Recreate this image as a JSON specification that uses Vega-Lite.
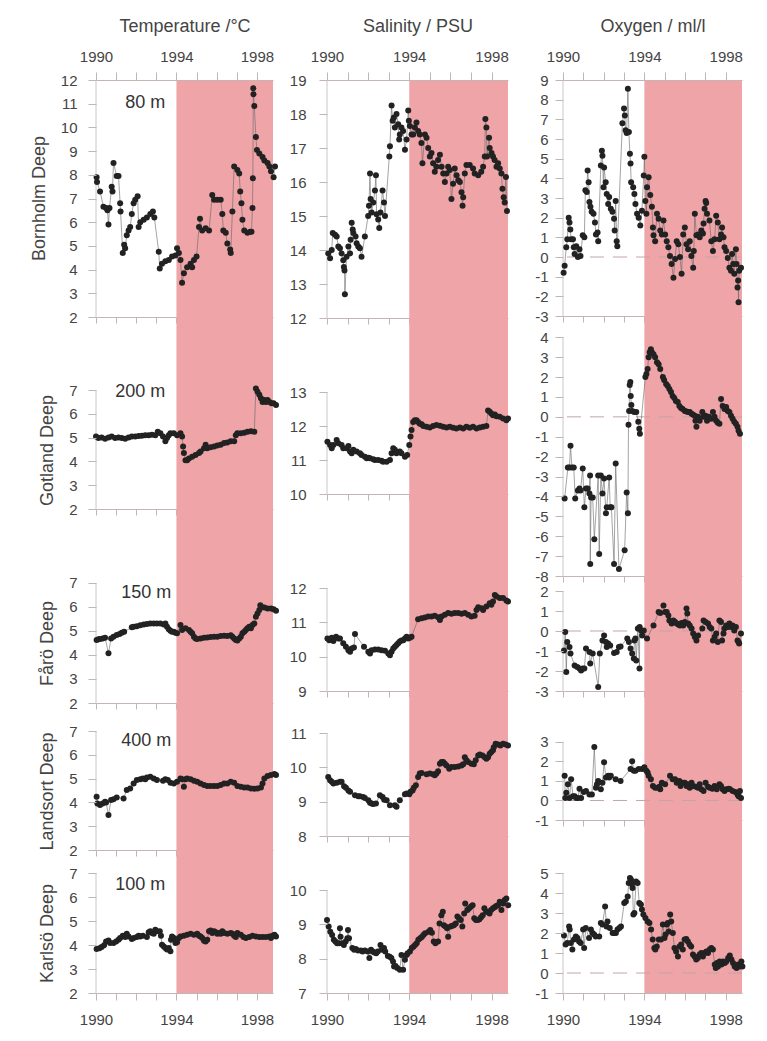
{
  "$schema": "https://vega.github.io/schema/vega-lite/v6.json",
  "background": "white",
  "padding": {"left": 30, "top": 17, "right": 10, "bottom": 10},
  "spacing": 22,
  "hconcat": [
   {
    "spacing": 9,
    "hconcat": [
    {
      "spacing": 0, "bounds": "flush",
      "vconcat": [
        {"width": 177, "height": 237, "resolve": {"axis": {"x": "independent"}},
         "layer": [
          {"data": {"values": [{}]}, "mark": {"type": "rect", "color": "#EFA4A8"}, "encoding": {"x": {"datum": 1994, "type": "quantitative", "scale": {"domain": [1990, 1998.8], "nice": false, "zero": false}, "axis": null}, "x2": {"datum": 1998.8}}},
          {"data": {"values": [{}]}, "mark": {"type": "rule", "color": "#c8c8c8"}, "encoding": {"x": {"datum": 1990, "type": "quantitative", "scale": {"domain": [1990, 1998.8], "nice": false, "zero": false}, "axis": null}, "y": {"datum": 2, "type": "quantitative", "scale": {"domain": [2, 12], "nice": false, "zero": false}}, "y2": {"datum": 12}}},
          {"data": {"name": "T1"}, "mark": {"type": "line", "color": "#666666", "strokeWidth": 0.6}, "encoding": {"x": {"field": "t", "type": "quantitative", "scale": {"domain": [1990, 1998.8], "nice": false, "zero": false}, "axis": {"orient": "top", "values": [1990,1991,1992,1993,1994,1995,1996,1997,1998], "tickCount": 30, "labelExpr": "datum.value % 4 == 2 ? '' + datum.value : ''", "labelFlush": false, "labelOverlap": false, "tickSize": 8, "labelPadding": 8, "title": "Temperature /°C", "titlePadding": 14, "zindex": 1}}, "y": {"field": "v", "type": "quantitative", "scale": {"domain": [2, 12], "nice": false, "zero": false}}}},
          {"data": {"name": "T1"}, "mark": {"type": "point", "filled": true, "color": "#222222", "size": 36, "opacity": 1}, "encoding": {"x": {"field": "t", "type": "quantitative", "scale": {"domain": [1990, 1998.8], "nice": false, "zero": false}, "axis": {"orient": "bottom", "values": [1990,1991,1992,1993,1994,1995,1996,1997,1998], "tickCount": 30, "labels": false, "tickSize": 6, "title": null, "zindex": 1}}, "y": {"field": "v", "type": "quantitative", "scale": {"domain": [2, 12], "nice": false, "zero": false}, "axis": {"values": [2,3,4,5,6,7,8,9,10,11,12], "tickCount": 30, "labelOverlap": false, "domain": false, "tickSize": 8, "labelPadding": 11, "labelExpr": "'' + datum.value", "title": "Bornholm Deep", "titleY": 118, "titlePadding": 12, "zindex": 1}}}},
          {"data": {"values": [{}]}, "mark": {"type": "text", "fontSize": 18, "color": "#333333", "baseline": "middle"}, "encoding": {"x": {"datum": 1992.45, "type": "quantitative", "scale": {"domain": [1990, 1998.8], "nice": false, "zero": false}, "axis": null}, "y": {"datum": 11.03, "type": "quantitative", "scale": {"domain": [2, 12], "nice": false, "zero": false}}, "text": {"value": "80 m"}}}
         ]},
        {"width": 177, "height": 192, "resolve": {"axis": {"x": "independent"}},
         "layer": [
          {"data": {"values": [{}]}, "mark": {"type": "rect", "color": "#EFA4A8"}, "encoding": {"x": {"datum": 1994, "type": "quantitative", "scale": {"domain": [1990, 1998.8], "nice": false, "zero": false}, "axis": null}, "x2": {"datum": 1998.8}}},
          {"data": {"values": [{}]}, "mark": {"type": "rule", "color": "#c8c8c8"}, "encoding": {"x": {"datum": 1990, "type": "quantitative", "scale": {"domain": [1990, 1998.8], "nice": false, "zero": false}, "axis": null}, "y": {"datum": 2, "type": "quantitative", "scale": {"domain": [2, 10.07], "nice": false, "zero": false}}, "y2": {"datum": 7}}},
          {"data": {"name": "T2"}, "mark": {"type": "line", "color": "#666666", "strokeWidth": 0.6}, "encoding": {"x": {"field": "t", "type": "quantitative", "scale": {"domain": [1990, 1998.8], "nice": false, "zero": false}, "axis": null}, "y": {"field": "v", "type": "quantitative", "scale": {"domain": [2, 10.07], "nice": false, "zero": false}}}},
          {"data": {"name": "T2"}, "mark": {"type": "point", "filled": true, "color": "#222222", "size": 36, "opacity": 1}, "encoding": {"x": {"field": "t", "type": "quantitative", "scale": {"domain": [1990, 1998.8], "nice": false, "zero": false}, "axis": {"orient": "bottom", "values": [1990,1991,1992,1993,1994,1995,1996,1997,1998], "tickCount": 30, "labels": false, "tickSize": 6, "title": null, "zindex": 1}}, "y": {"field": "v", "type": "quantitative", "scale": {"domain": [2, 10.07], "nice": false, "zero": false}, "axis": {"values": [2,3,4,5,6,7], "tickCount": 30, "labelOverlap": false, "domain": false, "tickSize": 8, "labelPadding": 11, "labelExpr": "'' + datum.value", "title": "Gotland Deep", "titleY": 133, "titlePadding": 12, "zindex": 1}}}},
          {"data": {"values": [{}]}, "mark": {"type": "text", "fontSize": 18, "color": "#333333", "baseline": "middle"}, "encoding": {"x": {"datum": 1992.2, "type": "quantitative", "scale": {"domain": [1990, 1998.8], "nice": false, "zero": false}, "axis": null}, "y": {"datum": 6.93, "type": "quantitative", "scale": {"domain": [2, 10.07], "nice": false, "zero": false}}, "text": {"value": "200 m"}}}
         ]},
        {"width": 177, "height": 194, "resolve": {"axis": {"x": "independent"}},
         "layer": [
          {"data": {"values": [{}]}, "mark": {"type": "rect", "color": "#EFA4A8"}, "encoding": {"x": {"datum": 1994, "type": "quantitative", "scale": {"domain": [1990, 1998.8], "nice": false, "zero": false}, "axis": null}, "x2": {"datum": 1998.8}}},
          {"data": {"values": [{}]}, "mark": {"type": "rule", "color": "#c8c8c8"}, "encoding": {"x": {"datum": 1990, "type": "quantitative", "scale": {"domain": [1990, 1998.8], "nice": false, "zero": false}, "axis": null}, "y": {"datum": 2, "type": "quantitative", "scale": {"domain": [2, 10.08], "nice": false, "zero": false}}, "y2": {"datum": 7}}},
          {"data": {"name": "T3"}, "mark": {"type": "line", "color": "#666666", "strokeWidth": 0.6}, "encoding": {"x": {"field": "t", "type": "quantitative", "scale": {"domain": [1990, 1998.8], "nice": false, "zero": false}, "axis": null}, "y": {"field": "v", "type": "quantitative", "scale": {"domain": [2, 10.08], "nice": false, "zero": false}}}},
          {"data": {"name": "T3"}, "mark": {"type": "point", "filled": true, "color": "#222222", "size": 36, "opacity": 1}, "encoding": {"x": {"field": "t", "type": "quantitative", "scale": {"domain": [1990, 1998.8], "nice": false, "zero": false}, "axis": {"orient": "bottom", "values": [1990,1991,1992,1993,1994,1995,1996,1997,1998], "tickCount": 30, "labels": false, "tickSize": 6, "title": null, "zindex": 1}}, "y": {"field": "v", "type": "quantitative", "scale": {"domain": [2, 10.08], "nice": false, "zero": false}, "axis": {"values": [2,3,4,5,6,7], "tickCount": 30, "labelOverlap": false, "domain": false, "tickSize": 8, "labelPadding": 11, "labelExpr": "'' + datum.value", "title": "Fårö Deep", "titleY": 134, "titlePadding": 12, "zindex": 1}}}},
          {"data": {"values": [{}]}, "mark": {"type": "text", "fontSize": 18, "color": "#333333", "baseline": "middle"}, "encoding": {"x": {"datum": 1992.5, "type": "quantitative", "scale": {"domain": [1990, 1998.8], "nice": false, "zero": false}, "axis": null}, "y": {"datum": 6.6, "type": "quantitative", "scale": {"domain": [2, 10.08], "nice": false, "zero": false}}, "text": {"value": "150 m"}}}
         ]},
        {"width": 177, "height": 147, "resolve": {"axis": {"x": "independent"}},
         "layer": [
          {"data": {"values": [{}]}, "mark": {"type": "rect", "color": "#EFA4A8"}, "encoding": {"x": {"datum": 1994, "type": "quantitative", "scale": {"domain": [1990, 1998.8], "nice": false, "zero": false}, "axis": null}, "x2": {"datum": 1998.8}}},
          {"data": {"values": [{}]}, "mark": {"type": "rule", "color": "#c8c8c8"}, "encoding": {"x": {"datum": 1990, "type": "quantitative", "scale": {"domain": [1990, 1998.8], "nice": false, "zero": false}, "axis": null}, "y": {"datum": 2, "type": "quantitative", "scale": {"domain": [2, 8.18], "nice": false, "zero": false}}, "y2": {"datum": 7}}},
          {"data": {"name": "T4"}, "mark": {"type": "line", "color": "#666666", "strokeWidth": 0.6}, "encoding": {"x": {"field": "t", "type": "quantitative", "scale": {"domain": [1990, 1998.8], "nice": false, "zero": false}, "axis": null}, "y": {"field": "v", "type": "quantitative", "scale": {"domain": [2, 8.18], "nice": false, "zero": false}}}},
          {"data": {"name": "T4"}, "mark": {"type": "point", "filled": true, "color": "#222222", "size": 36, "opacity": 1}, "encoding": {"x": {"field": "t", "type": "quantitative", "scale": {"domain": [1990, 1998.8], "nice": false, "zero": false}, "axis": {"orient": "bottom", "values": [1990,1991,1992,1993,1994,1995,1996,1997,1998], "tickCount": 30, "labels": false, "tickSize": 6, "title": null, "zindex": 1}}, "y": {"field": "v", "type": "quantitative", "scale": {"domain": [2, 8.18], "nice": false, "zero": false}, "axis": {"values": [2,3,4,5,6,7], "tickCount": 30, "labelOverlap": false, "domain": false, "tickSize": 8, "labelPadding": 11, "labelExpr": "'' + datum.value", "title": "Landsort Deep", "titleY": 88, "titlePadding": 12, "zindex": 1}}}},
          {"data": {"values": [{}]}, "mark": {"type": "text", "fontSize": 18, "color": "#333333", "baseline": "middle"}, "encoding": {"x": {"datum": 1992.5, "type": "quantitative", "scale": {"domain": [1990, 1998.8], "nice": false, "zero": false}, "axis": null}, "y": {"datum": 6.6, "type": "quantitative", "scale": {"domain": [2, 8.18], "nice": false, "zero": false}}, "text": {"value": "400 m"}}}
         ]},
        {"width": 177, "height": 143, "resolve": {"axis": {"x": "independent"}},
         "layer": [
          {"data": {"values": [{}]}, "mark": {"type": "rect", "color": "#EFA4A8"}, "encoding": {"x": {"datum": 1994, "type": "quantitative", "scale": {"domain": [1990, 1998.8], "nice": false, "zero": false}, "axis": null}, "x2": {"datum": 1998.8}}},
          {"data": {"values": [{}]}, "mark": {"type": "rule", "color": "#c8c8c8"}, "encoding": {"x": {"datum": 1990, "type": "quantitative", "scale": {"domain": [1990, 1998.8], "nice": false, "zero": false}, "axis": null}, "y": {"datum": 2, "type": "quantitative", "scale": {"domain": [2, 7.96], "nice": false, "zero": false}}, "y2": {"datum": 7}}},
          {"data": {"name": "T5"}, "mark": {"type": "line", "color": "#666666", "strokeWidth": 0.6}, "encoding": {"x": {"field": "t", "type": "quantitative", "scale": {"domain": [1990, 1998.8], "nice": false, "zero": false}, "axis": null}, "y": {"field": "v", "type": "quantitative", "scale": {"domain": [2, 7.96], "nice": false, "zero": false}}}},
          {"data": {"name": "T5"}, "mark": {"type": "point", "filled": true, "color": "#222222", "size": 36, "opacity": 1}, "encoding": {"x": {"field": "t", "type": "quantitative", "scale": {"domain": [1990, 1998.8], "nice": false, "zero": false}, "axis": {"orient": "bottom", "values": [1990,1991,1992,1993,1994,1995,1996,1997,1998], "tickCount": 30, "labelExpr": "datum.value % 4 == 2 ? '' + datum.value : ''", "labelFlush": false, "labelOverlap": false, "tickSize": 7, "labelPadding": 12, "title": null, "zindex": 1}}, "y": {"field": "v", "type": "quantitative", "scale": {"domain": [2, 7.96], "nice": false, "zero": false}, "axis": {"values": [2,3,4,5,6,7], "tickCount": 30, "labelOverlap": false, "domain": false, "tickSize": 8, "labelPadding": 11, "labelExpr": "'' + datum.value", "title": "Karlsö Deep", "titleY": 83, "titlePadding": 12, "zindex": 1}}}},
          {"data": {"values": [{}]}, "mark": {"type": "text", "fontSize": 18, "color": "#333333", "baseline": "middle"}, "encoding": {"x": {"datum": 1992.2, "type": "quantitative", "scale": {"domain": [1990, 1998.8], "nice": false, "zero": false}, "axis": null}, "y": {"datum": 6.5, "type": "quantitative", "scale": {"domain": [2, 7.96], "nice": false, "zero": false}}, "text": {"value": "100 m"}}}
         ]}
      ]
    },
    {
      "spacing": 0, "bounds": "flush",
      "vconcat": [
        {"width": 181, "height": 238, "resolve": {"axis": {"x": "independent"}},
         "layer": [
          {"data": {"values": [{}]}, "mark": {"type": "rect", "color": "#EFA4A8"}, "encoding": {"x": {"datum": 1994, "type": "quantitative", "scale": {"domain": [1990, 1998.8], "nice": false, "zero": false}, "axis": null}, "x2": {"datum": 1998.8}}},
          {"data": {"values": [{}]}, "mark": {"type": "rule", "color": "#c8c8c8"}, "encoding": {"x": {"datum": 1990, "type": "quantitative", "scale": {"domain": [1990, 1998.8], "nice": false, "zero": false}, "axis": null}, "y": {"datum": 12, "type": "quantitative", "scale": {"domain": [12, 19], "nice": false, "zero": false}}, "y2": {"datum": 19}}},
          {"data": {"name": "S1"}, "mark": {"type": "line", "color": "#666666", "strokeWidth": 0.6}, "encoding": {"x": {"field": "t", "type": "quantitative", "scale": {"domain": [1990, 1998.8], "nice": false, "zero": false}, "axis": {"orient": "top", "values": [1990,1991,1992,1993,1994,1995,1996,1997,1998], "tickCount": 30, "labelExpr": "datum.value % 4 == 2 ? '' + datum.value : ''", "labelFlush": false, "labelOverlap": false, "tickSize": 8, "labelPadding": 8, "title": "Salinity / PSU", "titlePadding": 14, "zindex": 1}}, "y": {"field": "v", "type": "quantitative", "scale": {"domain": [12, 19], "nice": false, "zero": false}}}},
          {"data": {"name": "S1"}, "mark": {"type": "point", "filled": true, "color": "#222222", "size": 36, "opacity": 1}, "encoding": {"x": {"field": "t", "type": "quantitative", "scale": {"domain": [1990, 1998.8], "nice": false, "zero": false}, "axis": {"orient": "bottom", "values": [1990,1991,1992,1993,1994,1995,1996,1997,1998], "tickCount": 30, "labels": false, "tickSize": 6, "title": null, "zindex": 1}}, "y": {"field": "v", "type": "quantitative", "scale": {"domain": [12, 19], "nice": false, "zero": false}, "axis": {"values": [12,13,14,15,16,17,18,19], "tickCount": 30, "labelOverlap": false, "domain": false, "tickSize": 8, "labelPadding": 13, "labelExpr": "'' + datum.value", "title": null, "zindex": 1}}}}
         ]},
        {"width": 181, "height": 176, "resolve": {"axis": {"x": "independent"}},
         "layer": [
          {"data": {"values": [{}]}, "mark": {"type": "rect", "color": "#EFA4A8"}, "encoding": {"x": {"datum": 1994, "type": "quantitative", "scale": {"domain": [1990, 1998.8], "nice": false, "zero": false}, "axis": null}, "x2": {"datum": 1998.8}}},
          {"data": {"values": [{}]}, "mark": {"type": "rule", "color": "#c8c8c8"}, "encoding": {"x": {"datum": 1990, "type": "quantitative", "scale": {"domain": [1990, 1998.8], "nice": false, "zero": false}, "axis": null}, "y": {"datum": 10, "type": "quantitative", "scale": {"domain": [10, 15.18], "nice": false, "zero": false}}, "y2": {"datum": 13}}},
          {"data": {"name": "S2"}, "mark": {"type": "line", "color": "#666666", "strokeWidth": 0.6}, "encoding": {"x": {"field": "t", "type": "quantitative", "scale": {"domain": [1990, 1998.8], "nice": false, "zero": false}, "axis": null}, "y": {"field": "v", "type": "quantitative", "scale": {"domain": [10, 15.18], "nice": false, "zero": false}}}},
          {"data": {"name": "S2"}, "mark": {"type": "point", "filled": true, "color": "#222222", "size": 36, "opacity": 1}, "encoding": {"x": {"field": "t", "type": "quantitative", "scale": {"domain": [1990, 1998.8], "nice": false, "zero": false}, "axis": {"orient": "bottom", "values": [1990,1991,1992,1993,1994,1995,1996,1997,1998], "tickCount": 30, "labels": false, "tickSize": 6, "title": null, "zindex": 1}}, "y": {"field": "v", "type": "quantitative", "scale": {"domain": [10, 15.18], "nice": false, "zero": false}, "axis": {"values": [10,11,12,13], "tickCount": 30, "labelOverlap": false, "domain": false, "tickSize": 8, "labelPadding": 13, "labelExpr": "'' + datum.value", "title": null, "zindex": 1}}}}
         ]},
        {"width": 181, "height": 197, "resolve": {"axis": {"x": "independent"}},
         "layer": [
          {"data": {"values": [{}]}, "mark": {"type": "rect", "color": "#EFA4A8"}, "encoding": {"x": {"datum": 1994, "type": "quantitative", "scale": {"domain": [1990, 1998.8], "nice": false, "zero": false}, "axis": null}, "x2": {"datum": 1998.8}}},
          {"data": {"values": [{}]}, "mark": {"type": "rule", "color": "#c8c8c8"}, "encoding": {"x": {"datum": 1990, "type": "quantitative", "scale": {"domain": [1990, 1998.8], "nice": false, "zero": false}, "axis": null}, "y": {"datum": 9, "type": "quantitative", "scale": {"domain": [9, 14.74], "nice": false, "zero": false}}, "y2": {"datum": 12}}},
          {"data": {"name": "S3"}, "mark": {"type": "line", "color": "#666666", "strokeWidth": 0.6}, "encoding": {"x": {"field": "t", "type": "quantitative", "scale": {"domain": [1990, 1998.8], "nice": false, "zero": false}, "axis": null}, "y": {"field": "v", "type": "quantitative", "scale": {"domain": [9, 14.74], "nice": false, "zero": false}}}},
          {"data": {"name": "S3"}, "mark": {"type": "point", "filled": true, "color": "#222222", "size": 36, "opacity": 1}, "encoding": {"x": {"field": "t", "type": "quantitative", "scale": {"domain": [1990, 1998.8], "nice": false, "zero": false}, "axis": {"orient": "bottom", "values": [1990,1991,1992,1993,1994,1995,1996,1997,1998], "tickCount": 30, "labels": false, "tickSize": 6, "title": null, "zindex": 1}}, "y": {"field": "v", "type": "quantitative", "scale": {"domain": [9, 14.74], "nice": false, "zero": false}, "axis": {"values": [9,10,11,12], "tickCount": 30, "labelOverlap": false, "domain": false, "tickSize": 8, "labelPadding": 13, "labelExpr": "'' + datum.value", "title": null, "zindex": 1}}}}
         ]},
        {"width": 181, "height": 145, "resolve": {"axis": {"x": "independent"}},
         "layer": [
          {"data": {"values": [{}]}, "mark": {"type": "rect", "color": "#EFA4A8"}, "encoding": {"x": {"datum": 1994, "type": "quantitative", "scale": {"domain": [1990, 1998.8], "nice": false, "zero": false}, "axis": null}, "x2": {"datum": 1998.8}}},
          {"data": {"values": [{}]}, "mark": {"type": "rule", "color": "#c8c8c8"}, "encoding": {"x": {"datum": 1990, "type": "quantitative", "scale": {"domain": [1990, 1998.8], "nice": false, "zero": false}, "axis": null}, "y": {"datum": 8, "type": "quantitative", "scale": {"domain": [8, 12.23], "nice": false, "zero": false}}, "y2": {"datum": 11}}},
          {"data": {"name": "S4"}, "mark": {"type": "line", "color": "#666666", "strokeWidth": 0.6}, "encoding": {"x": {"field": "t", "type": "quantitative", "scale": {"domain": [1990, 1998.8], "nice": false, "zero": false}, "axis": null}, "y": {"field": "v", "type": "quantitative", "scale": {"domain": [8, 12.23], "nice": false, "zero": false}}}},
          {"data": {"name": "S4"}, "mark": {"type": "point", "filled": true, "color": "#222222", "size": 36, "opacity": 1}, "encoding": {"x": {"field": "t", "type": "quantitative", "scale": {"domain": [1990, 1998.8], "nice": false, "zero": false}, "axis": {"orient": "bottom", "values": [1990,1991,1992,1993,1994,1995,1996,1997,1998], "tickCount": 30, "labels": false, "tickSize": 6, "title": null, "zindex": 1}}, "y": {"field": "v", "type": "quantitative", "scale": {"domain": [8, 12.23], "nice": false, "zero": false}, "axis": {"values": [8,9,10,11], "tickCount": 30, "labelOverlap": false, "domain": false, "tickSize": 8, "labelPadding": 13, "labelExpr": "'' + datum.value", "title": null, "zindex": 1}}}}
         ]},
        {"width": 181, "height": 157, "resolve": {"axis": {"x": "independent"}},
         "layer": [
          {"data": {"values": [{}]}, "mark": {"type": "rect", "color": "#EFA4A8"}, "encoding": {"x": {"datum": 1994, "type": "quantitative", "scale": {"domain": [1990, 1998.8], "nice": false, "zero": false}, "axis": null}, "x2": {"datum": 1998.8}}},
          {"data": {"values": [{}]}, "mark": {"type": "rule", "color": "#c8c8c8"}, "encoding": {"x": {"datum": 1990, "type": "quantitative", "scale": {"domain": [1990, 1998.8], "nice": false, "zero": false}, "axis": null}, "y": {"datum": 7, "type": "quantitative", "scale": {"domain": [7, 11.58], "nice": false, "zero": false}}, "y2": {"datum": 10}}},
          {"data": {"name": "S5"}, "mark": {"type": "line", "color": "#666666", "strokeWidth": 0.6}, "encoding": {"x": {"field": "t", "type": "quantitative", "scale": {"domain": [1990, 1998.8], "nice": false, "zero": false}, "axis": null}, "y": {"field": "v", "type": "quantitative", "scale": {"domain": [7, 11.58], "nice": false, "zero": false}}}},
          {"data": {"name": "S5"}, "mark": {"type": "point", "filled": true, "color": "#222222", "size": 36, "opacity": 1}, "encoding": {"x": {"field": "t", "type": "quantitative", "scale": {"domain": [1990, 1998.8], "nice": false, "zero": false}, "axis": {"orient": "bottom", "values": [1990,1991,1992,1993,1994,1995,1996,1997,1998], "tickCount": 30, "labelExpr": "datum.value % 4 == 2 ? '' + datum.value : ''", "labelFlush": false, "labelOverlap": false, "tickSize": 7, "labelPadding": 12, "title": null, "zindex": 1}}, "y": {"field": "v", "type": "quantitative", "scale": {"domain": [7, 11.58], "nice": false, "zero": false}, "axis": {"values": [7,8,9,10], "tickCount": 30, "labelOverlap": false, "domain": false, "tickSize": 8, "labelPadding": 13, "labelExpr": "'' + datum.value", "title": null, "zindex": 1}}}}
         ]}
      ]
    }
    ]
   },
    {
      "spacing": 0, "bounds": "flush",
      "vconcat": [
        {"width": 179, "height": 236, "resolve": {"axis": {"x": "independent"}},
         "layer": [
          {"data": {"values": [{}]}, "mark": {"type": "rect", "color": "#EFA4A8"}, "encoding": {"x": {"datum": 1994, "type": "quantitative", "scale": {"domain": [1990, 1998.8], "nice": false, "zero": false}, "axis": null}, "x2": {"datum": 1998.8}}},
          {"data": {"values": [{}]}, "mark": {"type": "rule", "color": "#c8c8c8"}, "encoding": {"x": {"datum": 1990, "type": "quantitative", "scale": {"domain": [1990, 1998.8], "nice": false, "zero": false}, "axis": null}, "y": {"datum": -3, "type": "quantitative", "scale": {"domain": [-3, 9], "nice": false, "zero": false}}, "y2": {"datum": 9}}},
          {"data": {"values": [{}]}, "mark": {"type": "rule", "color": "#c4a4a6", "strokeDash": [14, 9]}, "encoding": {"y": {"datum": 0, "type": "quantitative", "scale": {"domain": [-3, 9], "nice": false, "zero": false}}}},
          {"data": {"name": "O1"}, "mark": {"type": "line", "color": "#666666", "strokeWidth": 0.6}, "encoding": {"x": {"field": "t", "type": "quantitative", "scale": {"domain": [1990, 1998.8], "nice": false, "zero": false}, "axis": {"orient": "top", "values": [1990,1991,1992,1993,1994,1995,1996,1997,1998], "tickCount": 30, "labelExpr": "datum.value % 4 == 2 ? '' + datum.value : ''", "labelFlush": false, "labelOverlap": false, "tickSize": 8, "labelPadding": 8, "title": "Oxygen / ml/l", "titlePadding": 14, "zindex": 1}}, "y": {"field": "v", "type": "quantitative", "scale": {"domain": [-3, 9], "nice": false, "zero": false}}}},
          {"data": {"name": "O1"}, "mark": {"type": "point", "filled": true, "color": "#222222", "size": 36, "opacity": 1}, "encoding": {"x": {"field": "t", "type": "quantitative", "scale": {"domain": [1990, 1998.8], "nice": false, "zero": false}, "axis": {"orient": "bottom", "values": [1990,1991,1992,1993,1994,1995,1996,1997,1998], "tickCount": 30, "labels": false, "tickSize": 6, "title": null, "zindex": 1}}, "y": {"field": "v", "type": "quantitative", "scale": {"domain": [-3, 9], "nice": false, "zero": false}, "axis": {"values": [-3,-2,-1,0,1,2,3,4,5,6,7,8,9], "tickCount": 30, "labelOverlap": false, "domain": false, "tickSize": 8, "labelPadding": 7, "labelExpr": "'' + datum.value", "title": null, "zindex": 1}}}}
         ]},
        {"width": 179, "height": 260, "resolve": {"axis": {"x": "independent"}},
         "layer": [
          {"data": {"values": [{}]}, "mark": {"type": "rect", "color": "#EFA4A8"}, "encoding": {"x": {"datum": 1994, "type": "quantitative", "scale": {"domain": [1990, 1998.8], "nice": false, "zero": false}, "axis": null}, "x2": {"datum": 1998.8}}},
          {"data": {"values": [{}]}, "mark": {"type": "rule", "color": "#c8c8c8"}, "encoding": {"x": {"datum": 1990, "type": "quantitative", "scale": {"domain": [1990, 1998.8], "nice": false, "zero": false}, "axis": null}, "y": {"datum": -8, "type": "quantitative", "scale": {"domain": [-8, 5.07], "nice": false, "zero": false}}, "y2": {"datum": 4}}},
          {"data": {"values": [{}]}, "mark": {"type": "rule", "color": "#c4a4a6", "strokeDash": [14, 9]}, "encoding": {"y": {"datum": 0, "type": "quantitative", "scale": {"domain": [-8, 5.07], "nice": false, "zero": false}}}},
          {"data": {"name": "O2"}, "mark": {"type": "line", "color": "#666666", "strokeWidth": 0.6}, "encoding": {"x": {"field": "t", "type": "quantitative", "scale": {"domain": [1990, 1998.8], "nice": false, "zero": false}, "axis": null}, "y": {"field": "v", "type": "quantitative", "scale": {"domain": [-8, 5.07], "nice": false, "zero": false}}}},
          {"data": {"name": "O2"}, "mark": {"type": "point", "filled": true, "color": "#222222", "size": 36, "opacity": 1}, "encoding": {"x": {"field": "t", "type": "quantitative", "scale": {"domain": [1990, 1998.8], "nice": false, "zero": false}, "axis": {"orient": "bottom", "values": [1990,1991,1992,1993,1994,1995,1996,1997,1998], "tickCount": 30, "labels": false, "tickSize": 6, "title": null, "zindex": 1}}, "y": {"field": "v", "type": "quantitative", "scale": {"domain": [-8, 5.07], "nice": false, "zero": false}, "axis": {"values": [-8,-7,-6,-5,-4,-3,-2,-1,0,1,2,3,4], "tickCount": 30, "labelOverlap": false, "domain": false, "tickSize": 8, "labelPadding": 7, "labelExpr": "'' + datum.value", "title": null, "zindex": 1}}}}
         ]},
        {"width": 179, "height": 115, "resolve": {"axis": {"x": "independent"}},
         "layer": [
          {"data": {"values": [{}]}, "mark": {"type": "rect", "color": "#EFA4A8"}, "encoding": {"x": {"datum": 1994, "type": "quantitative", "scale": {"domain": [1990, 1998.8], "nice": false, "zero": false}, "axis": null}, "x2": {"datum": 1998.8}}},
          {"data": {"values": [{}]}, "mark": {"type": "rule", "color": "#c8c8c8"}, "encoding": {"x": {"datum": 1990, "type": "quantitative", "scale": {"domain": [1990, 1998.8], "nice": false, "zero": false}, "axis": null}, "y": {"datum": -3, "type": "quantitative", "scale": {"domain": [-3, 2.75], "nice": false, "zero": false}}, "y2": {"datum": 2}}},
          {"data": {"values": [{}]}, "mark": {"type": "rule", "color": "#c4a4a6", "strokeDash": [14, 9]}, "encoding": {"y": {"datum": 0, "type": "quantitative", "scale": {"domain": [-3, 2.75], "nice": false, "zero": false}}}},
          {"data": {"name": "O3"}, "mark": {"type": "line", "color": "#666666", "strokeWidth": 0.6}, "encoding": {"x": {"field": "t", "type": "quantitative", "scale": {"domain": [1990, 1998.8], "nice": false, "zero": false}, "axis": null}, "y": {"field": "v", "type": "quantitative", "scale": {"domain": [-3, 2.75], "nice": false, "zero": false}}}},
          {"data": {"name": "O3"}, "mark": {"type": "point", "filled": true, "color": "#222222", "size": 36, "opacity": 1}, "encoding": {"x": {"field": "t", "type": "quantitative", "scale": {"domain": [1990, 1998.8], "nice": false, "zero": false}, "axis": {"orient": "bottom", "values": [1990,1991,1992,1993,1994,1995,1996,1997,1998], "tickCount": 30, "labels": false, "tickSize": 6, "title": null, "zindex": 1}}, "y": {"field": "v", "type": "quantitative", "scale": {"domain": [-3, 2.75], "nice": false, "zero": false}, "axis": {"values": [-3,-2,-1,0,1,2], "tickCount": 30, "labelOverlap": false, "domain": false, "tickSize": 8, "labelPadding": 7, "labelExpr": "'' + datum.value", "title": null, "zindex": 1}}}}
         ]},
        {"width": 179, "height": 129, "resolve": {"axis": {"x": "independent"}},
         "layer": [
          {"data": {"values": [{}]}, "mark": {"type": "rect", "color": "#EFA4A8"}, "encoding": {"x": {"datum": 1994, "type": "quantitative", "scale": {"domain": [1990, 1998.8], "nice": false, "zero": false}, "axis": null}, "x2": {"datum": 1998.8}}},
          {"data": {"values": [{}]}, "mark": {"type": "rule", "color": "#c8c8c8"}, "encoding": {"x": {"datum": 1990, "type": "quantitative", "scale": {"domain": [1990, 1998.8], "nice": false, "zero": false}, "axis": null}, "y": {"datum": -1, "type": "quantitative", "scale": {"domain": [-1, 5.6], "nice": false, "zero": false}}, "y2": {"datum": 3}}},
          {"data": {"values": [{}]}, "mark": {"type": "rule", "color": "#c4a4a6", "strokeDash": [14, 9]}, "encoding": {"y": {"datum": 0, "type": "quantitative", "scale": {"domain": [-1, 5.6], "nice": false, "zero": false}}}},
          {"data": {"name": "O4"}, "mark": {"type": "line", "color": "#666666", "strokeWidth": 0.6}, "encoding": {"x": {"field": "t", "type": "quantitative", "scale": {"domain": [1990, 1998.8], "nice": false, "zero": false}, "axis": null}, "y": {"field": "v", "type": "quantitative", "scale": {"domain": [-1, 5.6], "nice": false, "zero": false}}}},
          {"data": {"name": "O4"}, "mark": {"type": "point", "filled": true, "color": "#222222", "size": 36, "opacity": 1}, "encoding": {"x": {"field": "t", "type": "quantitative", "scale": {"domain": [1990, 1998.8], "nice": false, "zero": false}, "axis": {"orient": "bottom", "values": [1990,1991,1992,1993,1994,1995,1996,1997,1998], "tickCount": 30, "labels": false, "tickSize": 6, "title": null, "zindex": 1}}, "y": {"field": "v", "type": "quantitative", "scale": {"domain": [-1, 5.6], "nice": false, "zero": false}, "axis": {"values": [-1,0,1,2,3], "tickCount": 30, "labelOverlap": false, "domain": false, "tickSize": 8, "labelPadding": 7, "labelExpr": "'' + datum.value", "title": null, "zindex": 1}}}}
         ]},
        {"width": 179, "height": 173, "resolve": {"axis": {"x": "independent"}},
         "layer": [
          {"data": {"values": [{}]}, "mark": {"type": "rect", "color": "#EFA4A8"}, "encoding": {"x": {"datum": 1994, "type": "quantitative", "scale": {"domain": [1990, 1998.8], "nice": false, "zero": false}, "axis": null}, "x2": {"datum": 1998.8}}},
          {"data": {"values": [{}]}, "mark": {"type": "rule", "color": "#c8c8c8"}, "encoding": {"x": {"datum": 1990, "type": "quantitative", "scale": {"domain": [1990, 1998.8], "nice": false, "zero": false}, "axis": null}, "y": {"datum": -1, "type": "quantitative", "scale": {"domain": [-1, 7.65], "nice": false, "zero": false}}, "y2": {"datum": 5}}},
          {"data": {"values": [{}]}, "mark": {"type": "rule", "color": "#c4a4a6", "strokeDash": [14, 9]}, "encoding": {"y": {"datum": 0, "type": "quantitative", "scale": {"domain": [-1, 7.65], "nice": false, "zero": false}}}},
          {"data": {"name": "O5"}, "mark": {"type": "line", "color": "#666666", "strokeWidth": 0.6}, "encoding": {"x": {"field": "t", "type": "quantitative", "scale": {"domain": [1990, 1998.8], "nice": false, "zero": false}, "axis": null}, "y": {"field": "v", "type": "quantitative", "scale": {"domain": [-1, 7.65], "nice": false, "zero": false}}}},
          {"data": {"name": "O5"}, "mark": {"type": "point", "filled": true, "color": "#222222", "size": 36, "opacity": 1}, "encoding": {"x": {"field": "t", "type": "quantitative", "scale": {"domain": [1990, 1998.8], "nice": false, "zero": false}, "axis": {"orient": "bottom", "values": [1990,1991,1992,1993,1994,1995,1996,1997,1998], "tickCount": 30, "labelExpr": "datum.value % 4 == 2 ? '' + datum.value : ''", "labelFlush": false, "labelOverlap": false, "tickSize": 7, "labelPadding": 12, "title": null, "zindex": 1}}, "y": {"field": "v", "type": "quantitative", "scale": {"domain": [-1, 7.65], "nice": false, "zero": false}, "axis": {"values": [-1,0,1,2,3,4,5], "tickCount": 30, "labelOverlap": false, "domain": false, "tickSize": 8, "labelPadding": 7, "labelExpr": "'' + datum.value", "title": null, "zindex": 1}}}}
         ]}
      ]
    }
  ],
  "config": {
    "font": "Liberation Sans",
    "view": {"stroke": null},
    "axis": {"grid": false, "labelOverlap": false, "domainColor": "#c4b4b4", "tickColor": "#c4b4b4", "labelColor": "#444444", "labelFontSize": 15, "titleColor": "#444444", "titleFontSize": 18, "titleFontWeight": "normal"}
  },
  "datasets": {
    "T1": [{"t":1990.03,"v":7.9},{"t":1990.05,"v":7.7},{"t":1990.2,"v":7.3},{"t":1990.37,"v":6.65},{"t":1990.5,"v":6.6},{"t":1990.57,"v":6.5},{"t":1990.62,"v":5.9},{"t":1990.67,"v":6.6},{"t":1990.78,"v":7.5},{"t":1990.82,"v":7.3},{"t":1990.87,"v":8.5},{"t":1991.03,"v":7.95},{"t":1991.12,"v":7.95},{"t":1991.2,"v":6.8},{"t":1991.22,"v":6.45},{"t":1991.33,"v":4.7},{"t":1991.4,"v":5.05},{"t":1991.45,"v":4.9},{"t":1991.53,"v":5.45},{"t":1991.62,"v":5.65},{"t":1991.7,"v":5.8},{"t":1991.78,"v":6.35},{"t":1991.87,"v":6.8},{"t":1991.95,"v":6.95},{"t":1992.07,"v":7.1},{"t":1992.12,"v":5.8},{"t":1992.2,"v":6.0},{"t":1992.37,"v":6.1},{"t":1992.53,"v":6.2},{"t":1992.7,"v":6.35},{"t":1992.83,"v":6.45},{"t":1992.9,"v":6.2},{"t":1993.12,"v":4.75},{"t":1993.17,"v":4.05},{"t":1993.28,"v":4.25},{"t":1993.45,"v":4.35},{"t":1993.62,"v":4.4},{"t":1993.78,"v":4.55},{"t":1993.95,"v":4.6},{"t":1994.03,"v":4.9},{"t":1994.12,"v":4.7},{"t":1994.2,"v":4.4},{"t":1994.28,"v":3.45},{"t":1994.37,"v":3.85},{"t":1994.53,"v":4.1},{"t":1994.7,"v":4.25},{"t":1994.78,"v":4.1},{"t":1994.87,"v":4.4},{"t":1995.0,"v":4.55},{"t":1995.12,"v":5.8},{"t":1995.17,"v":6.15},{"t":1995.28,"v":5.65},{"t":1995.45,"v":5.75},{"t":1995.62,"v":5.65},{"t":1995.78,"v":7.15},{"t":1995.87,"v":6.95},{"t":1996.03,"v":6.95},{"t":1996.2,"v":6.95},{"t":1996.28,"v":6.35},{"t":1996.33,"v":5.65},{"t":1996.45,"v":5.55},{"t":1996.53,"v":5.1},{"t":1996.67,"v":4.85},{"t":1996.7,"v":4.7},{"t":1996.78,"v":6.45},{"t":1996.87,"v":8.35},{"t":1997.03,"v":8.2},{"t":1997.12,"v":8.05},{"t":1997.17,"v":7.3},{"t":1997.23,"v":6.8},{"t":1997.28,"v":6.1},{"t":1997.37,"v":5.65},{"t":1997.53,"v":5.55},{"t":1997.67,"v":5.6},{"t":1997.73,"v":5.6},{"t":1997.78,"v":6.6},{"t":1997.8,"v":7.85},{"t":1997.82,"v":11.65},{"t":1997.83,"v":11.4},{"t":1997.87,"v":10.9},{"t":1997.95,"v":9.6},{"t":1998.0,"v":9.05},{"t":1998.12,"v":8.9},{"t":1998.28,"v":8.75},{"t":1998.37,"v":8.6},{"t":1998.53,"v":8.5},{"t":1998.62,"v":8.35},{"t":1998.7,"v":8.15},{"t":1998.83,"v":7.9},{"t":1998.9,"v":8.35}],
    "T2": [{"t":1990.0,"v":5.05},{"t":1990.12,"v":4.98},{"t":1990.28,"v":5.0},{"t":1990.45,"v":4.95},{"t":1990.62,"v":5.0},{"t":1990.78,"v":5.05},{"t":1990.95,"v":4.98},{"t":1991.12,"v":5.0},{"t":1991.28,"v":4.98},{"t":1991.45,"v":4.95},{"t":1991.62,"v":5.0},{"t":1991.78,"v":5.05},{"t":1991.95,"v":5.05},{"t":1992.12,"v":5.07},{"t":1992.28,"v":5.08},{"t":1992.45,"v":5.1},{"t":1992.62,"v":5.1},{"t":1992.78,"v":5.12},{"t":1992.95,"v":5.1},{"t":1993.07,"v":5.25},{"t":1993.2,"v":5.18},{"t":1993.33,"v":5.05},{"t":1993.45,"v":4.85},{"t":1993.53,"v":4.98},{"t":1993.62,"v":5.1},{"t":1993.7,"v":5.18},{"t":1993.87,"v":5.18},{"t":1994.03,"v":5.1},{"t":1994.2,"v":5.18},{"t":1994.28,"v":5.05},{"t":1994.33,"v":4.63},{"t":1994.37,"v":4.35},{"t":1994.45,"v":4.05},{"t":1994.53,"v":4.05},{"t":1994.62,"v":4.12},{"t":1994.78,"v":4.2},{"t":1994.95,"v":4.27},{"t":1995.12,"v":4.35},{"t":1995.2,"v":4.42},{"t":1995.37,"v":4.55},{"t":1995.45,"v":4.7},{"t":1995.53,"v":4.55},{"t":1995.7,"v":4.6},{"t":1995.87,"v":4.63},{"t":1996.03,"v":4.67},{"t":1996.2,"v":4.7},{"t":1996.37,"v":4.77},{"t":1996.53,"v":4.8},{"t":1996.7,"v":4.85},{"t":1996.87,"v":4.85},{"t":1996.95,"v":5.1},{"t":1997.03,"v":5.18},{"t":1997.2,"v":5.18},{"t":1997.37,"v":5.2},{"t":1997.53,"v":5.25},{"t":1997.7,"v":5.27},{"t":1997.87,"v":5.25},{"t":1997.95,"v":7.07},{"t":1998.03,"v":6.93},{"t":1998.12,"v":6.8},{"t":1998.2,"v":6.65},{"t":1998.28,"v":6.5},{"t":1998.37,"v":6.58},{"t":1998.45,"v":6.5},{"t":1998.53,"v":6.58},{"t":1998.62,"v":6.5},{"t":1998.73,"v":6.45},{"t":1998.83,"v":6.45},{"t":1998.95,"v":6.37}],
    "T3": [{"t":1990.03,"v":4.62},{"t":1990.12,"v":4.65},{"t":1990.2,"v":4.67},{"t":1990.33,"v":4.69},{"t":1990.45,"v":4.72},{"t":1990.62,"v":4.07},{"t":1990.75,"v":4.69},{"t":1990.87,"v":4.76},{"t":1991.03,"v":4.83},{"t":1991.17,"v":4.87},{"t":1991.28,"v":4.93},{"t":1991.4,"v":4.97},{"t":1991.78,"v":5.15},{"t":1991.87,"v":5.18},{"t":1992.03,"v":5.2},{"t":1992.2,"v":5.24},{"t":1992.37,"v":5.27},{"t":1992.53,"v":5.29},{"t":1992.7,"v":5.31},{"t":1992.87,"v":5.31},{"t":1993.03,"v":5.31},{"t":1993.2,"v":5.31},{"t":1993.37,"v":5.27},{"t":1993.45,"v":5.31},{"t":1993.53,"v":5.18},{"t":1993.62,"v":5.07},{"t":1993.7,"v":5.01},{"t":1993.78,"v":4.97},{"t":1993.87,"v":4.97},{"t":1993.95,"v":4.93},{"t":1994.03,"v":4.9},{"t":1994.2,"v":5.25},{"t":1994.28,"v":5.04},{"t":1994.45,"v":5.11},{"t":1994.62,"v":5.04},{"t":1994.7,"v":4.97},{"t":1994.78,"v":4.9},{"t":1994.87,"v":4.76},{"t":1994.95,"v":4.69},{"t":1995.03,"v":4.67},{"t":1995.2,"v":4.69},{"t":1995.37,"v":4.72},{"t":1995.53,"v":4.73},{"t":1995.7,"v":4.75},{"t":1995.87,"v":4.76},{"t":1996.03,"v":4.76},{"t":1996.2,"v":4.79},{"t":1996.37,"v":4.8},{"t":1996.53,"v":4.79},{"t":1996.7,"v":4.82},{"t":1996.78,"v":4.76},{"t":1996.87,"v":4.69},{"t":1996.95,"v":4.62},{"t":1997.03,"v":4.6},{"t":1997.12,"v":4.69},{"t":1997.2,"v":4.76},{"t":1997.28,"v":4.9},{"t":1997.37,"v":4.97},{"t":1997.45,"v":5.04},{"t":1997.53,"v":5.11},{"t":1997.62,"v":5.18},{"t":1997.7,"v":5.11},{"t":1997.78,"v":5.25},{"t":1997.87,"v":5.31},{"t":1997.95,"v":5.59},{"t":1998.03,"v":5.73},{"t":1998.12,"v":5.87},{"t":1998.17,"v":6.07},{"t":1998.23,"v":6.0},{"t":1998.37,"v":5.98},{"t":1998.53,"v":5.94},{"t":1998.7,"v":5.94},{"t":1998.83,"v":5.9},{"t":1998.95,"v":5.84}],
    "T4": [{"t":1990.03,"v":4.24},{"t":1990.07,"v":3.96},{"t":1990.2,"v":3.89},{"t":1990.33,"v":3.96},{"t":1990.45,"v":4.03},{"t":1990.5,"v":4.0},{"t":1990.62,"v":3.47},{"t":1990.75,"v":4.1},{"t":1990.87,"v":4.13},{"t":1991.03,"v":4.21},{"t":1991.37,"v":4.17},{"t":1991.53,"v":4.52},{"t":1991.7,"v":4.59},{"t":1991.87,"v":4.8},{"t":1992.03,"v":4.94},{"t":1992.2,"v":4.97},{"t":1992.33,"v":5.01},{"t":1992.45,"v":4.97},{"t":1992.53,"v":5.05},{"t":1992.7,"v":5.08},{"t":1992.87,"v":5.01},{"t":1993.03,"v":4.94},{"t":1993.33,"v":4.91},{"t":1993.45,"v":4.97},{"t":1993.57,"v":4.94},{"t":1993.7,"v":4.83},{"t":1993.87,"v":4.8},{"t":1994.03,"v":4.87},{"t":1994.2,"v":5.01},{"t":1994.28,"v":4.97},{"t":1994.37,"v":4.66},{"t":1994.45,"v":4.97},{"t":1994.53,"v":5.01},{"t":1994.7,"v":4.97},{"t":1994.87,"v":4.91},{"t":1995.03,"v":4.87},{"t":1995.2,"v":4.8},{"t":1995.37,"v":4.73},{"t":1995.53,"v":4.69},{"t":1995.7,"v":4.69},{"t":1995.87,"v":4.69},{"t":1996.03,"v":4.69},{"t":1996.2,"v":4.73},{"t":1996.37,"v":4.8},{"t":1996.53,"v":4.8},{"t":1996.7,"v":4.87},{"t":1996.87,"v":4.83},{"t":1997.03,"v":4.69},{"t":1997.2,"v":4.66},{"t":1997.37,"v":4.63},{"t":1997.53,"v":4.63},{"t":1997.7,"v":4.59},{"t":1997.87,"v":4.58},{"t":1998.03,"v":4.59},{"t":1998.2,"v":4.63},{"t":1998.28,"v":4.8},{"t":1998.37,"v":5.01},{"t":1998.53,"v":5.11},{"t":1998.7,"v":5.15},{"t":1998.87,"v":5.19},{"t":1998.95,"v":5.15}],
    "T5": [{"t":1990.03,"v":3.83},{"t":1990.17,"v":3.86},{"t":1990.28,"v":3.92},{"t":1990.4,"v":3.99},{"t":1990.5,"v":4.15},{"t":1990.62,"v":4.19},{"t":1990.7,"v":4.08},{"t":1990.87,"v":4.08},{"t":1991.0,"v":4.15},{"t":1991.12,"v":4.22},{"t":1991.2,"v":4.29},{"t":1991.33,"v":4.39},{"t":1991.45,"v":4.33},{"t":1991.53,"v":4.47},{"t":1991.62,"v":4.36},{"t":1991.78,"v":4.25},{"t":1991.87,"v":4.29},{"t":1992.03,"v":4.33},{"t":1992.12,"v":4.39},{"t":1992.2,"v":4.36},{"t":1992.33,"v":4.39},{"t":1992.53,"v":4.33},{"t":1992.62,"v":4.53},{"t":1992.7,"v":4.57},{"t":1992.78,"v":4.5},{"t":1992.87,"v":4.47},{"t":1992.95,"v":4.64},{"t":1993.03,"v":4.57},{"t":1993.17,"v":4.57},{"t":1993.23,"v":4.39},{"t":1993.28,"v":4.01},{"t":1993.37,"v":3.94},{"t":1993.45,"v":3.88},{"t":1993.53,"v":3.81},{"t":1993.62,"v":3.88},{"t":1993.7,"v":3.74},{"t":1993.73,"v":4.22},{"t":1993.78,"v":4.36},{"t":1993.87,"v":4.29},{"t":1993.95,"v":4.08},{"t":1994.03,"v":4.11},{"t":1994.12,"v":4.29},{"t":1994.2,"v":4.36},{"t":1994.37,"v":4.39},{"t":1994.53,"v":4.43},{"t":1994.7,"v":4.47},{"t":1994.87,"v":4.43},{"t":1995.03,"v":4.47},{"t":1995.12,"v":4.39},{"t":1995.2,"v":4.36},{"t":1995.28,"v":4.29},{"t":1995.37,"v":4.18},{"t":1995.45,"v":4.15},{"t":1995.53,"v":4.22},{"t":1995.62,"v":4.57},{"t":1995.7,"v":4.61},{"t":1995.78,"v":4.5},{"t":1995.87,"v":4.57},{"t":1995.95,"v":4.53},{"t":1996.03,"v":4.47},{"t":1996.12,"v":4.5},{"t":1996.2,"v":4.47},{"t":1996.28,"v":4.57},{"t":1996.37,"v":4.5},{"t":1996.53,"v":4.47},{"t":1996.7,"v":4.5},{"t":1996.78,"v":4.47},{"t":1996.87,"v":4.39},{"t":1996.95,"v":4.33},{"t":1997.03,"v":4.5},{"t":1997.2,"v":4.43},{"t":1997.33,"v":4.33},{"t":1997.45,"v":4.29},{"t":1997.62,"v":4.33},{"t":1997.78,"v":4.39},{"t":1997.95,"v":4.36},{"t":1998.12,"v":4.33},{"t":1998.28,"v":4.33},{"t":1998.45,"v":4.33},{"t":1998.62,"v":4.36},{"t":1998.7,"v":4.29},{"t":1998.78,"v":4.39},{"t":1998.87,"v":4.43},{"t":1998.95,"v":4.36}],
    "S1": [{"t":1990.06,"v":13.9},{"t":1990.15,"v":13.76},{"t":1990.23,"v":14.0},{"t":1990.28,"v":14.5},{"t":1990.39,"v":14.45},{"t":1990.47,"v":14.4},{"t":1990.55,"v":14.1},{"t":1990.63,"v":14.05},{"t":1990.71,"v":13.9},{"t":1990.79,"v":13.7},{"t":1990.82,"v":13.5},{"t":1990.85,"v":13.4},{"t":1990.87,"v":12.7},{"t":1990.95,"v":13.8},{"t":1991.04,"v":14.1},{"t":1991.12,"v":13.9},{"t":1991.15,"v":14.3},{"t":1991.2,"v":14.8},{"t":1991.25,"v":14.6},{"t":1991.28,"v":14.5},{"t":1991.39,"v":14.4},{"t":1991.44,"v":14.2},{"t":1991.52,"v":14.1},{"t":1991.6,"v":14.05},{"t":1991.68,"v":13.8},{"t":1991.84,"v":14.4},{"t":1992.0,"v":15.0},{"t":1992.04,"v":15.3},{"t":1992.09,"v":16.25},{"t":1992.12,"v":15.5},{"t":1992.17,"v":15.1},{"t":1992.25,"v":15.4},{"t":1992.33,"v":15.75},{"t":1992.38,"v":16.2},{"t":1992.41,"v":15.05},{"t":1992.49,"v":14.9},{"t":1992.54,"v":14.65},{"t":1992.6,"v":15.1},{"t":1992.7,"v":15.75},{"t":1992.77,"v":15.4},{"t":1992.82,"v":15.0},{"t":1993.03,"v":16.75},{"t":1993.06,"v":17.05},{"t":1993.14,"v":18.25},{"t":1993.19,"v":17.8},{"t":1993.25,"v":17.9},{"t":1993.3,"v":17.6},{"t":1993.38,"v":18.0},{"t":1993.46,"v":17.7},{"t":1993.51,"v":17.25},{"t":1993.54,"v":17.4},{"t":1993.62,"v":17.6},{"t":1993.7,"v":17.5},{"t":1993.79,"v":16.95},{"t":1993.87,"v":17.25},{"t":1993.95,"v":18.1},{"t":1993.98,"v":17.8},{"t":1994.03,"v":17.65},{"t":1994.11,"v":17.4},{"t":1994.19,"v":17.4},{"t":1994.27,"v":17.6},{"t":1994.35,"v":17.75},{"t":1994.43,"v":17.5},{"t":1994.51,"v":17.4},{"t":1994.59,"v":17.15},{"t":1994.64,"v":16.55},{"t":1994.76,"v":17.4},{"t":1994.84,"v":17.3},{"t":1994.92,"v":17.0},{"t":1995.0,"v":16.75},{"t":1995.08,"v":16.85},{"t":1995.16,"v":16.55},{"t":1995.24,"v":16.3},{"t":1995.32,"v":16.45},{"t":1995.4,"v":16.65},{"t":1995.49,"v":16.8},{"t":1995.57,"v":16.45},{"t":1995.65,"v":16.25},{"t":1995.73,"v":16.0},{"t":1995.81,"v":16.25},{"t":1995.89,"v":16.45},{"t":1995.97,"v":16.35},{"t":1996.05,"v":15.5},{"t":1996.13,"v":15.95},{"t":1996.21,"v":16.4},{"t":1996.3,"v":16.2},{"t":1996.38,"v":16.05},{"t":1996.46,"v":16.0},{"t":1996.54,"v":15.7},{"t":1996.59,"v":15.3},{"t":1996.62,"v":15.55},{"t":1996.7,"v":16.25},{"t":1996.78,"v":16.5},{"t":1996.94,"v":16.5},{"t":1997.1,"v":16.4},{"t":1997.18,"v":16.25},{"t":1997.35,"v":16.2},{"t":1997.5,"v":16.3},{"t":1997.59,"v":16.45},{"t":1997.67,"v":16.75},{"t":1997.7,"v":17.85},{"t":1997.75,"v":17.6},{"t":1997.78,"v":16.75},{"t":1997.88,"v":17.3},{"t":1997.91,"v":17.0},{"t":1998.0,"v":16.85},{"t":1998.07,"v":16.75},{"t":1998.15,"v":16.65},{"t":1998.24,"v":16.45},{"t":1998.32,"v":16.55},{"t":1998.4,"v":16.4},{"t":1998.48,"v":16.25},{"t":1998.53,"v":15.8},{"t":1998.59,"v":15.55},{"t":1998.64,"v":15.4},{"t":1998.7,"v":16.15},{"t":1998.75,"v":15.15}],
    "S2": [{"t":1990.02,"v":11.54},{"t":1990.15,"v":11.44},{"t":1990.23,"v":11.35},{"t":1990.31,"v":11.44},{"t":1990.47,"v":11.59},{"t":1990.55,"v":11.49},{"t":1990.71,"v":11.44},{"t":1990.79,"v":11.35},{"t":1990.95,"v":11.35},{"t":1991.04,"v":11.41},{"t":1991.12,"v":11.25},{"t":1991.2,"v":11.2},{"t":1991.28,"v":11.3},{"t":1991.44,"v":11.25},{"t":1991.6,"v":11.2},{"t":1991.68,"v":11.15},{"t":1991.84,"v":11.1},{"t":1991.93,"v":11.05},{"t":1992.01,"v":11.07},{"t":1992.09,"v":11.05},{"t":1992.25,"v":11.02},{"t":1992.33,"v":11.0},{"t":1992.49,"v":11.0},{"t":1992.65,"v":10.98},{"t":1992.73,"v":10.95},{"t":1992.9,"v":10.95},{"t":1993.06,"v":11.0},{"t":1993.14,"v":11.2},{"t":1993.22,"v":11.35},{"t":1993.3,"v":11.3},{"t":1993.38,"v":11.2},{"t":1993.54,"v":11.25},{"t":1993.62,"v":11.2},{"t":1993.79,"v":11.1},{"t":1993.9,"v":11.15},{"t":1994.0,"v":11.44},{"t":1994.06,"v":11.69},{"t":1994.11,"v":11.88},{"t":1994.19,"v":12.12},{"t":1994.27,"v":12.17},{"t":1994.35,"v":12.17},{"t":1994.43,"v":12.12},{"t":1994.51,"v":12.07},{"t":1994.6,"v":12.05},{"t":1994.68,"v":12.0},{"t":1994.84,"v":11.98},{"t":1995.0,"v":11.96},{"t":1995.16,"v":12.0},{"t":1995.32,"v":12.03},{"t":1995.49,"v":12.01},{"t":1995.65,"v":11.98},{"t":1995.81,"v":11.96},{"t":1995.97,"v":11.98},{"t":1996.13,"v":11.95},{"t":1996.29,"v":11.93},{"t":1996.46,"v":11.96},{"t":1996.62,"v":11.93},{"t":1996.78,"v":11.98},{"t":1996.94,"v":11.95},{"t":1997.1,"v":11.98},{"t":1997.27,"v":11.93},{"t":1997.43,"v":11.96},{"t":1997.59,"v":11.98},{"t":1997.75,"v":12.0},{"t":1997.83,"v":12.46},{"t":1997.91,"v":12.42},{"t":1997.99,"v":12.37},{"t":1998.07,"v":12.32},{"t":1998.16,"v":12.34},{"t":1998.24,"v":12.29},{"t":1998.4,"v":12.27},{"t":1998.56,"v":12.22},{"t":1998.72,"v":12.17},{"t":1998.8,"v":12.22}],
    "S3": [{"t":1990.02,"v":10.53},{"t":1990.11,"v":10.48},{"t":1990.23,"v":10.55},{"t":1990.31,"v":10.46},{"t":1990.44,"v":10.58},{"t":1990.55,"v":10.53},{"t":1990.63,"v":10.53},{"t":1990.79,"v":10.39},{"t":1990.92,"v":10.29},{"t":1991.04,"v":10.19},{"t":1991.12,"v":10.14},{"t":1991.2,"v":10.24},{"t":1991.31,"v":10.27},{"t":1991.36,"v":10.66},{"t":1991.8,"v":10.29},{"t":1992.01,"v":10.14},{"t":1992.09,"v":10.09},{"t":1992.17,"v":10.19},{"t":1992.33,"v":10.21},{"t":1992.49,"v":10.21},{"t":1992.65,"v":10.19},{"t":1992.82,"v":10.17},{"t":1992.98,"v":10.09},{"t":1993.06,"v":10.04},{"t":1993.14,"v":10.14},{"t":1993.22,"v":10.24},{"t":1993.3,"v":10.29},{"t":1993.38,"v":10.34},{"t":1993.46,"v":10.39},{"t":1993.54,"v":10.44},{"t":1993.62,"v":10.47},{"t":1993.71,"v":10.48},{"t":1993.79,"v":10.53},{"t":1993.87,"v":10.58},{"t":1993.95,"v":10.53},{"t":1994.03,"v":10.55},{"t":1994.11,"v":10.58},{"t":1994.43,"v":11.09},{"t":1994.6,"v":11.12},{"t":1994.76,"v":11.14},{"t":1994.92,"v":11.17},{"t":1995.08,"v":11.17},{"t":1995.24,"v":11.19},{"t":1995.4,"v":11.15},{"t":1995.49,"v":11.07},{"t":1995.57,"v":11.17},{"t":1995.73,"v":11.22},{"t":1995.89,"v":11.27},{"t":1996.05,"v":11.25},{"t":1996.21,"v":11.27},{"t":1996.38,"v":11.27},{"t":1996.54,"v":11.25},{"t":1996.7,"v":11.27},{"t":1996.86,"v":11.22},{"t":1997.02,"v":11.17},{"t":1997.18,"v":11.19},{"t":1997.27,"v":11.36},{"t":1997.35,"v":11.44},{"t":1997.51,"v":11.41},{"t":1997.59,"v":11.36},{"t":1997.75,"v":11.46},{"t":1997.91,"v":11.56},{"t":1997.99,"v":11.51},{"t":1998.07,"v":11.61},{"t":1998.16,"v":11.8},{"t":1998.24,"v":11.75},{"t":1998.4,"v":11.71},{"t":1998.56,"v":11.71},{"t":1998.72,"v":11.64},{"t":1998.8,"v":11.61}],
    "S4": [{"t":1990.06,"v":9.72},{"t":1990.15,"v":9.63},{"t":1990.23,"v":9.58},{"t":1990.31,"v":9.53},{"t":1990.47,"v":9.55},{"t":1990.63,"v":9.58},{"t":1990.71,"v":9.58},{"t":1990.83,"v":9.45},{"t":1990.92,"v":9.41},{"t":1991.04,"v":9.33},{"t":1991.12,"v":9.29},{"t":1991.36,"v":9.19},{"t":1991.52,"v":9.16},{"t":1991.6,"v":9.16},{"t":1991.76,"v":9.14},{"t":1991.84,"v":9.11},{"t":1992.01,"v":9.04},{"t":1992.09,"v":8.97},{"t":1992.17,"v":8.95},{"t":1992.25,"v":8.93},{"t":1992.38,"v":8.95},{"t":1992.57,"v":9.19},{"t":1992.7,"v":9.14},{"t":1992.78,"v":9.06},{"t":1992.9,"v":9.04},{"t":1993.06,"v":8.9},{"t":1993.3,"v":8.9},{"t":1993.38,"v":8.85},{"t":1993.54,"v":9.04},{"t":1993.79,"v":9.22},{"t":1993.87,"v":9.24},{"t":1994.0,"v":9.22},{"t":1994.06,"v":9.29},{"t":1994.16,"v":9.33},{"t":1994.22,"v":9.41},{"t":1994.32,"v":9.48},{"t":1994.43,"v":9.72},{"t":1994.51,"v":9.82},{"t":1994.6,"v":9.84},{"t":1994.84,"v":9.8},{"t":1995.0,"v":9.82},{"t":1995.16,"v":9.8},{"t":1995.24,"v":9.77},{"t":1995.32,"v":9.82},{"t":1995.4,"v":9.89},{"t":1995.49,"v":10.11},{"t":1995.57,"v":10.16},{"t":1995.65,"v":10.16},{"t":1995.73,"v":10.11},{"t":1995.81,"v":10.06},{"t":1995.94,"v":9.96},{"t":1996.05,"v":10.01},{"t":1996.21,"v":10.01},{"t":1996.38,"v":10.03},{"t":1996.54,"v":10.06},{"t":1996.62,"v":10.09},{"t":1996.7,"v":10.3},{"t":1996.78,"v":10.21},{"t":1996.86,"v":10.16},{"t":1997.02,"v":10.11},{"t":1997.14,"v":10.09},{"t":1997.23,"v":10.21},{"t":1997.35,"v":10.35},{"t":1997.43,"v":10.38},{"t":1997.56,"v":10.35},{"t":1997.67,"v":10.3},{"t":1997.75,"v":10.25},{"t":1997.83,"v":10.3},{"t":1997.91,"v":10.4},{"t":1997.99,"v":10.45},{"t":1998.07,"v":10.5},{"t":1998.11,"v":10.59},{"t":1998.2,"v":10.69},{"t":1998.32,"v":10.67},{"t":1998.43,"v":10.64},{"t":1998.56,"v":10.69},{"t":1998.69,"v":10.67},{"t":1998.8,"v":10.64}],
    "S5": [{"t":1990.0,"v":9.13},{"t":1990.08,"v":8.94},{"t":1990.16,"v":8.79},{"t":1990.25,"v":8.69},{"t":1990.33,"v":8.55},{"t":1990.41,"v":8.5},{"t":1990.49,"v":8.45},{"t":1990.58,"v":8.45},{"t":1990.63,"v":8.89},{"t":1990.66,"v":8.64},{"t":1990.74,"v":8.45},{"t":1990.82,"v":8.4},{"t":1990.91,"v":8.5},{"t":1990.99,"v":8.6},{"t":1991.02,"v":8.84},{"t":1991.07,"v":8.6},{"t":1991.23,"v":8.31},{"t":1991.32,"v":8.26},{"t":1991.4,"v":8.28},{"t":1991.51,"v":8.24},{"t":1991.65,"v":8.24},{"t":1991.73,"v":8.21},{"t":1991.84,"v":8.24},{"t":1991.98,"v":8.21},{"t":1992.06,"v":8.02},{"t":1992.14,"v":8.26},{"t":1992.22,"v":8.21},{"t":1992.3,"v":8.18},{"t":1992.39,"v":8.16},{"t":1992.47,"v":8.21},{"t":1992.6,"v":8.4},{"t":1992.67,"v":8.26},{"t":1992.77,"v":8.31},{"t":1992.83,"v":8.21},{"t":1992.96,"v":8.08},{"t":1993.05,"v":8.06},{"t":1993.13,"v":8.02},{"t":1993.21,"v":7.92},{"t":1993.26,"v":7.77},{"t":1993.33,"v":7.79},{"t":1993.42,"v":7.73},{"t":1993.54,"v":7.68},{"t":1993.62,"v":8.11},{"t":1993.7,"v":7.68},{"t":1993.79,"v":7.97},{"t":1993.87,"v":8.11},{"t":1993.92,"v":8.16},{"t":1994.03,"v":8.21},{"t":1994.12,"v":8.31},{"t":1994.2,"v":8.35},{"t":1994.28,"v":8.4},{"t":1994.36,"v":8.45},{"t":1994.44,"v":8.55},{"t":1994.53,"v":8.6},{"t":1994.61,"v":8.63},{"t":1994.69,"v":8.69},{"t":1994.77,"v":8.74},{"t":1994.94,"v":8.79},{"t":1995.02,"v":8.84},{"t":1995.1,"v":8.76},{"t":1995.19,"v":8.5},{"t":1995.27,"v":8.45},{"t":1995.4,"v":8.5},{"t":1995.47,"v":9.03},{"t":1995.56,"v":9.27},{"t":1995.63,"v":9.37},{"t":1995.68,"v":8.98},{"t":1995.76,"v":8.94},{"t":1995.84,"v":8.89},{"t":1995.89,"v":8.64},{"t":1996.01,"v":8.94},{"t":1996.09,"v":8.96},{"t":1996.17,"v":8.98},{"t":1996.26,"v":9.03},{"t":1996.34,"v":9.23},{"t":1996.42,"v":9.18},{"t":1996.5,"v":9.13},{"t":1996.58,"v":8.94},{"t":1996.67,"v":9.32},{"t":1996.72,"v":9.61},{"t":1996.83,"v":9.42},{"t":1996.91,"v":9.47},{"t":1997.0,"v":9.52},{"t":1997.08,"v":9.56},{"t":1997.16,"v":9.18},{"t":1997.24,"v":9.13},{"t":1997.33,"v":9.13},{"t":1997.41,"v":9.15},{"t":1997.49,"v":9.21},{"t":1997.57,"v":9.27},{"t":1997.65,"v":9.47},{"t":1997.74,"v":9.37},{"t":1997.82,"v":9.37},{"t":1997.9,"v":9.32},{"t":1997.98,"v":9.42},{"t":1998.07,"v":9.47},{"t":1998.15,"v":9.5},{"t":1998.23,"v":9.54},{"t":1998.31,"v":9.56},{"t":1998.4,"v":9.66},{"t":1998.48,"v":9.42},{"t":1998.56,"v":9.61},{"t":1998.64,"v":9.71},{"t":1998.72,"v":9.76},{"t":1998.81,"v":9.56}],
    "O1": [{"t":1990.03,"v":-0.8},{"t":1990.08,"v":-0.45},{"t":1990.16,"v":0.5},{"t":1990.21,"v":0.9},{"t":1990.28,"v":2.0},{"t":1990.32,"v":1.75},{"t":1990.36,"v":1.4},{"t":1990.4,"v":0.9},{"t":1990.49,"v":0.9},{"t":1990.53,"v":0.5},{"t":1990.57,"v":0.15},{"t":1990.65,"v":0.55},{"t":1990.73,"v":0.0},{"t":1990.81,"v":0.4},{"t":1990.86,"v":0.05},{"t":1990.97,"v":1.1},{"t":1991.05,"v":1.0},{"t":1991.1,"v":3.4},{"t":1991.17,"v":3.3},{"t":1991.21,"v":4.4},{"t":1991.26,"v":3.8},{"t":1991.3,"v":2.8},{"t":1991.35,"v":2.55},{"t":1991.41,"v":2.3},{"t":1991.5,"v":2.2},{"t":1991.57,"v":1.75},{"t":1991.62,"v":1.15},{"t":1991.7,"v":1.25},{"t":1991.73,"v":0.8},{"t":1991.86,"v":4.65},{"t":1991.91,"v":5.4},{"t":1991.94,"v":5.15},{"t":1991.99,"v":3.55},{"t":1992.02,"v":4.55},{"t":1992.1,"v":3.8},{"t":1992.15,"v":3.2},{"t":1992.22,"v":2.7},{"t":1992.27,"v":3.05},{"t":1992.35,"v":2.45},{"t":1992.43,"v":2.3},{"t":1992.51,"v":1.95},{"t":1992.54,"v":1.35},{"t":1992.59,"v":2.85},{"t":1992.64,"v":0.8},{"t":1992.67,"v":0.55},{"t":1992.92,"v":6.8},{"t":1993.0,"v":7.55},{"t":1993.04,"v":7.2},{"t":1993.08,"v":6.45},{"t":1993.13,"v":6.3},{"t":1993.19,"v":8.55},{"t":1993.24,"v":6.35},{"t":1993.29,"v":5.25},{"t":1993.32,"v":4.75},{"t":1993.35,"v":3.8},{"t":1993.45,"v":3.55},{"t":1993.51,"v":3.2},{"t":1993.56,"v":2.7},{"t":1993.64,"v":2.2},{"t":1993.72,"v":2.0},{"t":1993.8,"v":1.6},{"t":1993.88,"v":2.35},{"t":1993.97,"v":4.15},{"t":1994.0,"v":5.1},{"t":1994.05,"v":2.85},{"t":1994.1,"v":2.2},{"t":1994.13,"v":3.55},{"t":1994.21,"v":4.05},{"t":1994.29,"v":3.15},{"t":1994.37,"v":2.55},{"t":1994.42,"v":1.5},{"t":1994.45,"v":1.1},{"t":1994.53,"v":0.8},{"t":1994.62,"v":2.2},{"t":1994.7,"v":1.95},{"t":1994.78,"v":1.35},{"t":1994.86,"v":1.15},{"t":1994.94,"v":1.85},{"t":1995.02,"v":1.15},{"t":1995.1,"v":0.8},{"t":1995.18,"v":0.5},{"t":1995.26,"v":0.05},{"t":1995.34,"v":-0.35},{"t":1995.43,"v":-1.05},{"t":1995.51,"v":-0.1},{"t":1995.59,"v":0.8},{"t":1995.67,"v":0.65},{"t":1995.75,"v":0.0},{"t":1995.83,"v":-0.85},{"t":1995.91,"v":1.15},{"t":1995.99,"v":1.5},{"t":1996.07,"v":0.65},{"t":1996.15,"v":0.4},{"t":1996.23,"v":0.8},{"t":1996.31,"v":0.05},{"t":1996.4,"v":-0.55},{"t":1996.43,"v":0.3},{"t":1996.48,"v":2.2},{"t":1996.56,"v":1.1},{"t":1996.64,"v":1.15},{"t":1996.72,"v":1.0},{"t":1996.8,"v":1.35},{"t":1996.88,"v":1.2},{"t":1996.91,"v":1.7},{"t":1996.96,"v":2.45},{"t":1997.01,"v":2.85},{"t":1997.04,"v":2.75},{"t":1997.08,"v":2.2},{"t":1997.2,"v":1.85},{"t":1997.29,"v":0.8},{"t":1997.37,"v":0.3},{"t":1997.45,"v":0.9},{"t":1997.53,"v":2.1},{"t":1997.61,"v":1.75},{"t":1997.69,"v":0.9},{"t":1997.77,"v":1.15},{"t":1997.82,"v":1.5},{"t":1997.89,"v":1.0},{"t":1997.94,"v":0.5},{"t":1998.02,"v":0.3},{"t":1998.1,"v":-0.05},{"t":1998.18,"v":-0.55},{"t":1998.26,"v":-0.7},{"t":1998.31,"v":0.15},{"t":1998.37,"v":-0.35},{"t":1998.42,"v":-0.85},{"t":1998.5,"v":0.4},{"t":1998.53,"v":-0.35},{"t":1998.58,"v":-1.55},{"t":1998.61,"v":-1.2},{"t":1998.63,"v":-2.3},{"t":1998.66,"v":-0.7},{"t":1998.75,"v":-0.55}],
    "O2": [{"t":1990.08,"v":-4.1},{"t":1990.24,"v":-2.55},{"t":1990.32,"v":-2.55},{"t":1990.37,"v":-1.45},{"t":1990.44,"v":-2.55},{"t":1990.53,"v":-2.55},{"t":1990.6,"v":-4.1},{"t":1990.73,"v":-3.7},{"t":1990.81,"v":-3.6},{"t":1990.86,"v":-3.7},{"t":1990.97,"v":-2.6},{"t":1991.05,"v":-4.55},{"t":1991.13,"v":-3.6},{"t":1991.21,"v":-3.6},{"t":1991.3,"v":-3.85},{"t":1991.33,"v":-2.95},{"t":1991.34,"v":-7.4},{"t":1991.38,"v":-4.05},{"t":1991.46,"v":-4.05},{"t":1991.54,"v":-6.15},{"t":1991.73,"v":-2.95},{"t":1991.78,"v":-6.9},{"t":1991.86,"v":-2.95},{"t":1991.94,"v":-3.85},{"t":1992.02,"v":-3.1},{"t":1992.11,"v":-4.85},{"t":1992.15,"v":-4.55},{"t":1992.27,"v":-3.05},{"t":1992.32,"v":-4.55},{"t":1992.38,"v":-4.55},{"t":1992.51,"v":-7.4},{"t":1992.59,"v":-2.35},{"t":1992.75,"v":-7.65},{"t":1993.03,"v":-6.7},{"t":1993.13,"v":-3.8},{"t":1993.19,"v":-4.85},{"t":1993.22,"v":-0.4},{"t":1993.25,"v":0.3},{"t":1993.28,"v":1.6},{"t":1993.31,"v":1.75},{"t":1993.33,"v":1.05},{"t":1993.36,"v":0.6},{"t":1993.4,"v":0.3},{"t":1993.5,"v":0.25},{"t":1993.6,"v":0.25},{"t":1993.7,"v":-0.25},{"t":1993.75,"v":-0.6},{"t":1993.78,"v":-0.85},{"t":1994.05,"v":2.0},{"t":1994.1,"v":2.15},{"t":1994.16,"v":2.4},{"t":1994.21,"v":3.0},{"t":1994.26,"v":3.25},{"t":1994.32,"v":3.4},{"t":1994.37,"v":3.25},{"t":1994.45,"v":3.15},{"t":1994.53,"v":3.0},{"t":1994.62,"v":2.75},{"t":1994.7,"v":2.65},{"t":1994.78,"v":2.4},{"t":1994.91,"v":2.0},{"t":1994.97,"v":1.85},{"t":1995.07,"v":1.65},{"t":1995.15,"v":1.55},{"t":1995.23,"v":1.4},{"t":1995.31,"v":1.25},{"t":1995.39,"v":1.05},{"t":1995.47,"v":0.95},{"t":1995.55,"v":0.8},{"t":1995.64,"v":0.75},{"t":1995.72,"v":0.55},{"t":1995.8,"v":0.45},{"t":1995.88,"v":0.4},{"t":1995.99,"v":0.3},{"t":1996.07,"v":0.27},{"t":1996.15,"v":0.25},{"t":1996.23,"v":0.25},{"t":1996.32,"v":0.15},{"t":1996.4,"v":0.1},{"t":1996.48,"v":0.05},{"t":1996.51,"v":-0.2},{"t":1996.56,"v":-0.5},{"t":1996.64,"v":0.0},{"t":1996.72,"v":-0.2},{"t":1996.85,"v":0.25},{"t":1996.91,"v":0.0},{"t":1997.01,"v":0.05},{"t":1997.08,"v":-0.2},{"t":1997.17,"v":0.0},{"t":1997.29,"v":-0.1},{"t":1997.37,"v":0.25},{"t":1997.45,"v":0.0},{"t":1997.53,"v":-0.2},{"t":1997.61,"v":-0.3},{"t":1997.69,"v":-0.35},{"t":1997.77,"v":0.9},{"t":1997.85,"v":0.55},{"t":1997.94,"v":0.4},{"t":1998.02,"v":0.5},{"t":1998.1,"v":0.3},{"t":1998.18,"v":0.25},{"t":1998.26,"v":0.05},{"t":1998.34,"v":-0.1},{"t":1998.42,"v":-0.25},{"t":1998.5,"v":-0.35},{"t":1998.58,"v":-0.5},{"t":1998.63,"v":-0.7},{"t":1998.7,"v":-0.85}],
    "O3": [{"t":1990.05,"v":-0.97},{"t":1990.11,"v":-0.05},{"t":1990.16,"v":-2.05},{"t":1990.21,"v":-0.55},{"t":1990.32,"v":-0.8},{"t":1990.37,"v":-1.13},{"t":1990.57,"v":-1.72},{"t":1990.7,"v":-1.8},{"t":1990.81,"v":-1.88},{"t":1990.89,"v":-1.97},{"t":1990.97,"v":-1.88},{"t":1991.05,"v":-1.88},{"t":1991.13,"v":-0.88},{"t":1991.3,"v":-1.05},{"t":1991.34,"v":-1.63},{"t":1991.46,"v":-1.13},{"t":1991.73,"v":-2.8},{"t":1991.81,"v":-1.13},{"t":1991.94,"v":-0.47},{"t":1992.02,"v":-0.22},{"t":1992.11,"v":-0.55},{"t":1992.15,"v":-0.8},{"t":1992.22,"v":-0.63},{"t":1992.32,"v":-0.72},{"t":1992.51,"v":-1.1},{"t":1992.64,"v":-1.05},{"t":1992.75,"v":-0.8},{"t":1992.83,"v":-0.77},{"t":1993.16,"v":-0.38},{"t":1993.24,"v":-0.55},{"t":1993.32,"v":-0.88},{"t":1993.4,"v":-1.13},{"t":1993.48,"v":-1.38},{"t":1993.51,"v":-0.47},{"t":1993.56,"v":-0.38},{"t":1993.6,"v":-1.47},{"t":1993.68,"v":0.12},{"t":1993.76,"v":-1.88},{"t":1993.77,"v":0.2},{"t":1993.84,"v":0.03},{"t":1993.89,"v":-0.22},{"t":1993.97,"v":0.03},{"t":1994.13,"v":-0.38},{"t":1994.45,"v":0.28},{"t":1994.7,"v":0.95},{"t":1994.78,"v":0.9},{"t":1994.94,"v":1.28},{"t":1995.02,"v":0.95},{"t":1995.1,"v":0.95},{"t":1995.18,"v":0.78},{"t":1995.23,"v":0.53},{"t":1995.34,"v":0.37},{"t":1995.43,"v":0.53},{"t":1995.51,"v":0.45},{"t":1995.59,"v":0.37},{"t":1995.67,"v":0.33},{"t":1995.75,"v":0.28},{"t":1995.83,"v":0.4},{"t":1995.91,"v":0.28},{"t":1995.99,"v":0.45},{"t":1996.07,"v":1.12},{"t":1996.11,"v":0.87},{"t":1996.15,"v":0.37},{"t":1996.23,"v":0.28},{"t":1996.32,"v":0.12},{"t":1996.4,"v":-0.13},{"t":1996.48,"v":-0.3},{"t":1996.56,"v":-0.47},{"t":1996.64,"v":-0.22},{"t":1996.85,"v":0.12},{"t":1996.91,"v":0.53},{"t":1997.01,"v":0.45},{"t":1997.13,"v":0.37},{"t":1997.21,"v":0.2},{"t":1997.29,"v":0.12},{"t":1997.37,"v":-0.47},{"t":1997.45,"v":-0.3},{"t":1997.53,"v":-0.13},{"t":1997.61,"v":-0.55},{"t":1997.69,"v":0.53},{"t":1997.77,"v":0.45},{"t":1997.82,"v":-0.47},{"t":1997.89,"v":-0.13},{"t":1997.94,"v":0.12},{"t":1998.02,"v":0.28},{"t":1998.1,"v":0.2},{"t":1998.18,"v":0.37},{"t":1998.26,"v":0.2},{"t":1998.34,"v":0.28},{"t":1998.42,"v":0.03},{"t":1998.5,"v":0.2},{"t":1998.58,"v":-0.47},{"t":1998.63,"v":-0.55},{"t":1998.66,"v":-0.63},{"t":1998.75,"v":-0.13}],
    "O4": [{"t":1990.08,"v":1.26},{"t":1990.11,"v":0.13},{"t":1990.16,"v":0.39},{"t":1990.24,"v":0.83},{"t":1990.32,"v":0.13},{"t":1990.4,"v":1.09},{"t":1990.49,"v":0.22},{"t":1990.57,"v":0.22},{"t":1990.65,"v":0.13},{"t":1990.73,"v":0.13},{"t":1990.81,"v":0.6},{"t":1990.89,"v":0.13},{"t":1991.02,"v":0.43},{"t":1991.13,"v":0.48},{"t":1991.3,"v":0.3},{"t":1991.42,"v":0.3},{"t":1991.54,"v":2.74},{"t":1991.62,"v":0.65},{"t":1991.67,"v":0.83},{"t":1991.73,"v":1.0},{"t":1991.86,"v":0.57},{"t":1991.94,"v":0.91},{"t":1992.02,"v":1.96},{"t":1992.11,"v":1.17},{"t":1992.22,"v":1.26},{"t":1992.27,"v":1.17},{"t":1992.35,"v":1.26},{"t":1992.59,"v":1.09},{"t":1992.83,"v":1.0},{"t":1993.32,"v":1.61},{"t":1993.4,"v":2.0},{"t":1993.48,"v":1.52},{"t":1993.56,"v":1.52},{"t":1993.72,"v":1.61},{"t":1993.89,"v":1.61},{"t":1994.0,"v":1.7},{"t":1994.1,"v":1.52},{"t":1994.16,"v":1.43},{"t":1994.21,"v":1.26},{"t":1994.32,"v":1.09},{"t":1994.42,"v":0.74},{"t":1994.53,"v":0.65},{"t":1994.65,"v":0.65},{"t":1994.74,"v":0.7},{"t":1994.78,"v":0.57},{"t":1994.86,"v":0.91},{"t":1995.02,"v":0.83},{"t":1995.26,"v":1.26},{"t":1995.39,"v":1.09},{"t":1995.51,"v":1.09},{"t":1995.59,"v":0.91},{"t":1995.72,"v":1.0},{"t":1995.78,"v":0.74},{"t":1995.88,"v":0.91},{"t":1995.99,"v":0.91},{"t":1996.07,"v":0.74},{"t":1996.15,"v":0.83},{"t":1996.23,"v":0.65},{"t":1996.32,"v":0.91},{"t":1996.4,"v":0.74},{"t":1996.53,"v":0.7},{"t":1996.64,"v":0.65},{"t":1996.72,"v":0.83},{"t":1996.8,"v":0.57},{"t":1996.91,"v":0.48},{"t":1997.01,"v":0.91},{"t":1997.13,"v":0.7},{"t":1997.21,"v":0.65},{"t":1997.34,"v":0.6},{"t":1997.45,"v":0.74},{"t":1997.56,"v":0.57},{"t":1997.69,"v":0.83},{"t":1997.77,"v":0.74},{"t":1997.85,"v":0.57},{"t":1997.94,"v":0.48},{"t":1998.02,"v":0.57},{"t":1998.15,"v":0.6},{"t":1998.21,"v":0.57},{"t":1998.34,"v":0.48},{"t":1998.47,"v":0.43},{"t":1998.58,"v":0.3},{"t":1998.63,"v":0.22},{"t":1998.7,"v":0.48},{"t":1998.75,"v":0.13}],
    "O5": [{"t":1990.05,"v":1.87},{"t":1990.13,"v":1.42},{"t":1990.21,"v":1.5},{"t":1990.3,"v":2.33},{"t":1990.33,"v":2.17},{"t":1990.38,"v":1.5},{"t":1990.46,"v":1.17},{"t":1990.54,"v":1.67},{"t":1990.63,"v":1.83},{"t":1990.71,"v":1.75},{"t":1990.79,"v":1.58},{"t":1990.87,"v":1.5},{"t":1990.99,"v":2.17},{"t":1991.04,"v":1.25},{"t":1991.12,"v":2.25},{"t":1991.28,"v":1.75},{"t":1991.37,"v":2.17},{"t":1991.45,"v":2.0},{"t":1991.53,"v":1.92},{"t":1991.61,"v":1.83},{"t":1991.78,"v":1.83},{"t":1991.86,"v":2.5},{"t":1991.94,"v":2.42},{"t":1992.07,"v":3.33},{"t":1992.14,"v":2.33},{"t":1992.19,"v":2.58},{"t":1992.3,"v":2.25},{"t":1992.44,"v":2.0},{"t":1992.52,"v":2.0},{"t":1992.6,"v":2.0},{"t":1992.68,"v":2.17},{"t":1992.77,"v":2.25},{"t":1992.85,"v":2.33},{"t":1993.01,"v":3.5},{"t":1993.09,"v":3.58},{"t":1993.18,"v":3.83},{"t":1993.23,"v":4.5},{"t":1993.29,"v":4.75},{"t":1993.34,"v":4.67},{"t":1993.39,"v":4.42},{"t":1993.42,"v":4.25},{"t":1993.46,"v":2.92},{"t":1993.51,"v":3.0},{"t":1993.59,"v":4.58},{"t":1993.67,"v":4.5},{"t":1993.75,"v":3.5},{"t":1993.83,"v":3.42},{"t":1993.88,"v":3.17},{"t":1993.95,"v":2.92},{"t":1994.05,"v":2.75},{"t":1994.16,"v":2.58},{"t":1994.25,"v":2.5},{"t":1994.33,"v":2.17},{"t":1994.41,"v":1.67},{"t":1994.49,"v":1.25},{"t":1994.54,"v":1.17},{"t":1994.61,"v":1.33},{"t":1994.71,"v":1.67},{"t":1994.82,"v":1.67},{"t":1994.91,"v":2.42},{"t":1994.99,"v":1.75},{"t":1995.04,"v":1.92},{"t":1995.1,"v":2.42},{"t":1995.15,"v":2.5},{"t":1995.2,"v":2.08},{"t":1995.27,"v":2.92},{"t":1995.32,"v":2.58},{"t":1995.4,"v":2.0},{"t":1995.48,"v":1.25},{"t":1995.56,"v":1.08},{"t":1995.65,"v":0.83},{"t":1995.73,"v":1.33},{"t":1995.81,"v":1.42},{"t":1995.89,"v":1.17},{"t":1995.98,"v":1.67},{"t":1996.06,"v":1.7},{"t":1996.14,"v":1.58},{"t":1996.22,"v":1.42},{"t":1996.3,"v":1.33},{"t":1996.39,"v":0.92},{"t":1996.47,"v":0.83},{"t":1996.55,"v":0.67},{"t":1996.63,"v":0.75},{"t":1996.72,"v":0.92},{"t":1996.8,"v":1.0},{"t":1996.88,"v":0.83},{"t":1996.96,"v":1.0},{"t":1997.05,"v":1.08},{"t":1997.13,"v":1.0},{"t":1997.21,"v":1.17},{"t":1997.29,"v":1.25},{"t":1997.37,"v":1.17},{"t":1997.46,"v":0.42},{"t":1997.51,"v":0.25},{"t":1997.57,"v":0.5},{"t":1997.62,"v":0.33},{"t":1997.7,"v":0.58},{"t":1997.79,"v":0.42},{"t":1997.87,"v":0.58},{"t":1997.95,"v":0.5},{"t":1998.03,"v":0.58},{"t":1998.12,"v":0.75},{"t":1998.2,"v":0.87},{"t":1998.28,"v":0.67},{"t":1998.36,"v":0.5},{"t":1998.44,"v":0.33},{"t":1998.53,"v":0.25},{"t":1998.61,"v":0.42},{"t":1998.69,"v":0.33},{"t":1998.77,"v":0.58},{"t":1998.82,"v":0.33}]
  }
}
